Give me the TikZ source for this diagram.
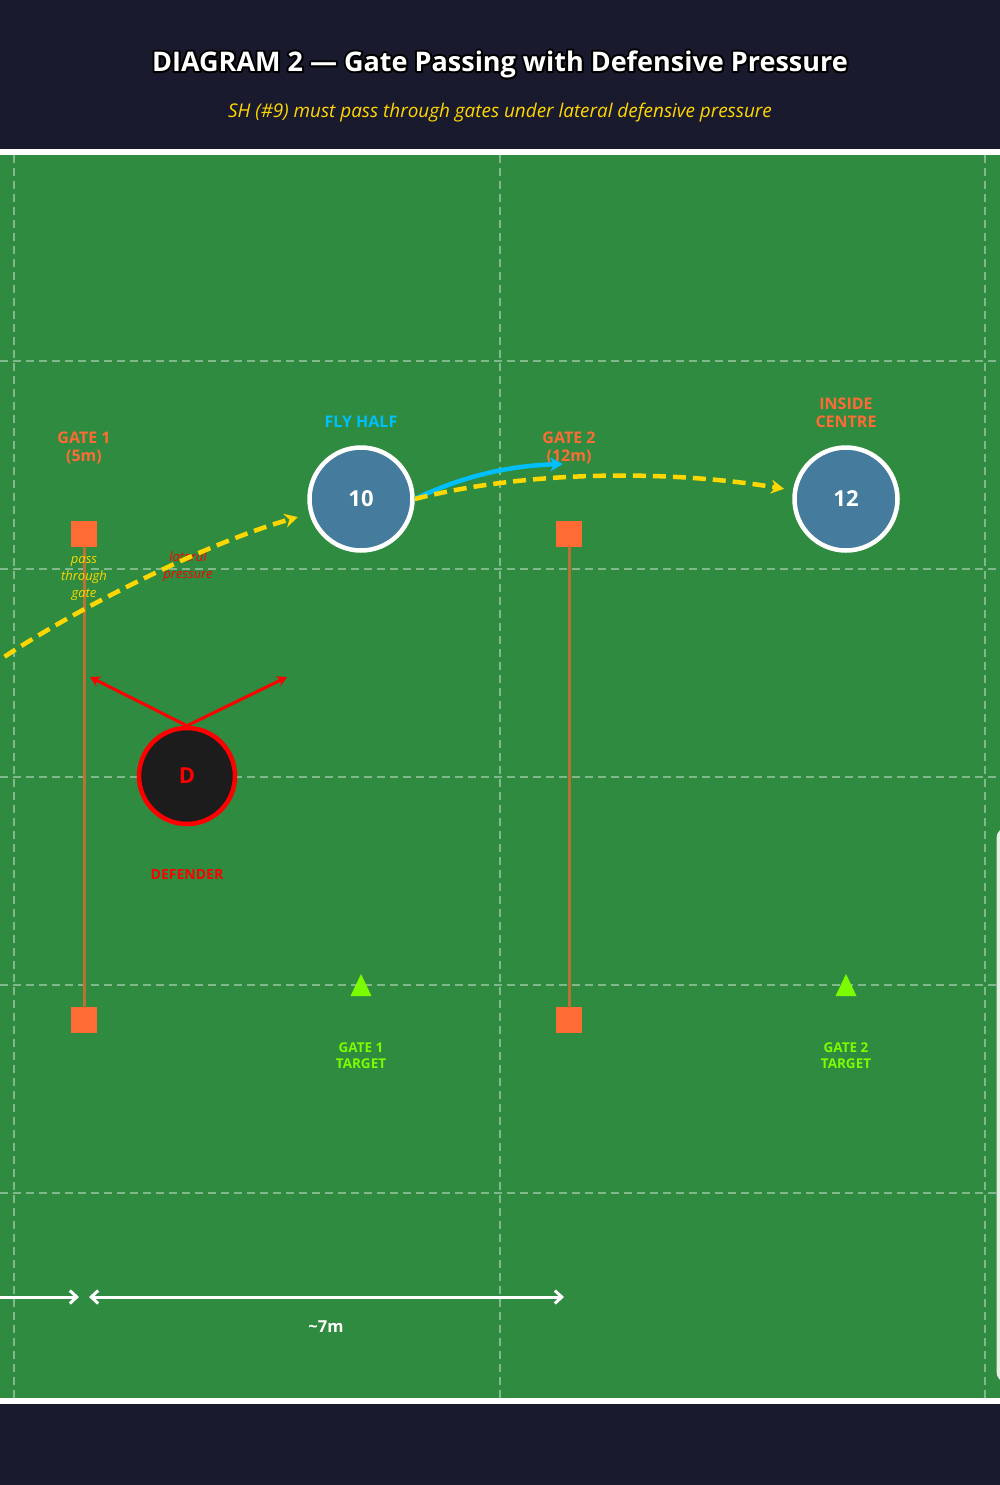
\documentclass[tikz,border=0pt]{standalone}
\usepackage{fontspec}
\setmainfont{Open Sans}
\usetikzlibrary{arrows.meta}

\definecolor{headbg}{HTML}{1A1A2E}
\definecolor{pitch}{HTML}{2E8B40}
\definecolor{coneor}{HTML}{FF6B35}
\definecolor{polebr}{HTML}{B87333}
\definecolor{shirt}{HTML}{457B9D}
\definecolor{flyblue}{HTML}{00BFFF}
\definecolor{passyel}{HTML}{FFD700}
\definecolor{targetgr}{HTML}{7CFC00}
\definecolor{defbk}{HTML}{1C1C1C}

% stroked copy of a text, for the dark edge round the title
\newcommand{\strokedtext}[1]{\special{pdf:literal direct 2 Tr 4 w 1 j}#1\special{pdf:literal direct 0 Tr}}

\tikzset{
  fieldline/.style={white, opacity=0.4, line width=1.2pt, dash pattern=on 8pt off 5pt},
  cone/.style={rectangle, fill=coneor, minimum size=26pt, inner sep=0pt},
  gatepole/.style={polebr, line width=3pt},
  player/.style={circle, fill=shirt, draw=white, line width=4.5pt, minimum size=103pt,
    text=white, font=\bfseries\fontsize{22}{26}\selectfont},
  defplayer/.style={circle, fill=defbk, draw=red, line width=4.5pt, minimum size=96pt,
    text=red, font=\bfseries\fontsize{22}{26}\selectfont},
  lbl/.style={font=\bfseries\fontsize{16}{18.5}\selectfont, align=center, inner sep=0pt},
  smalllbl/.style={font=\bfseries\fontsize{13.5}{16}\selectfont, align=center, inner sep=0pt},
  note/.style={font=\itshape\fontsize{13}{17}\selectfont, align=center, inner sep=0pt},
  passline/.style={passyel, line width=4.5pt, dash pattern=on 13pt off 7pt,
    -{Stealth[length=13pt,width=14pt]}},
  runline/.style={flyblue, line width=4.5pt, -{Stealth[length=13pt,width=14pt]}},
  pressline/.style={red, line width=3pt, -{Stealth[length=10pt,width=11pt]}},
  measure/.style={white, line width=3pt},
  titletext/.style={font=\bfseries\fontsize{27}{30}\selectfont, inner sep=0pt},
}

\begin{document}
\begin{tikzpicture}[x=1pt,y=-1pt]
\useasboundingbox (0,0) rectangle (1000,1485);
\fill[headbg] (0,0) rectangle (1000,1485);

% pitch
\draw[fill=pitch, draw=white, line width=5.5pt] (-20,152) rectangle (1020,1401);
\foreach \xx in {14,500,985}
  \draw[fieldline] (\xx,155) -- (\xx,1398);
\foreach \yy in {361,569,777,985,1193}
  \draw[fieldline] (0,\yy) -- (1000,\yy);

% legend box, mostly off the page
\draw[fill=white, fill opacity=0.88, draw=white!85!gray, line width=1pt, rounded corners=10pt]
  (997,828) rectangle (1250,1382);

% title
\node[titletext, text=black] (title-edge) at (500,64)
  {\strokedtext{DIAGRAM 2 — Gate Passing with Defensive Pressure}};
\node[titletext, text=white] (title) at (500,64)
  {DIAGRAM 2 — Gate Passing with Defensive Pressure};
\node[font=\itshape\fontsize{18.9}{22}\selectfont, text=passyel, inner sep=0pt]
  (subtitle) at (500,113) {SH (\#9) must pass through gates under lateral defensive pressure};

% gates
\node[cone] (g1top) at (84,534) {};
\node[cone] (g1bot) at (84,1020) {};
\node[cone] (g2top) at (569,534) {};
\node[cone] (g2bot) at (569,1020) {};
\draw[gatepole] (g1top) -- (g1bot);
\draw[gatepole] (g2top) -- (g2bot);
\node[lbl, text=coneor] (g1lbl) at (84,448) {GATE 1\\(5m)};
\node[lbl, text=coneor] (g2lbl) at (569,448) {GATE 2\\(12m)};
\node[note, text=passyel] (g1note) at (84,579) {pass\\through\\gate};
\node[note, text=red] (presslbl) at (188,567) {lateral\\pressure};

% targets
\coordinate (t1) at (361,985);
\coordinate (t2) at (846,985);
\fill[targetgr, shift={(t1)}] (0,-11) -- (10.5,11) -- (-10.5,11) -- cycle;
\fill[targetgr, shift={(t2)}] (0,-11) -- (10.5,11) -- (-10.5,11) -- cycle;
\node[smalllbl, text=targetgr] (t1lbl) at (361,1056) {GATE 1\\TARGET};
\node[smalllbl, text=targetgr] (t2lbl) at (846,1056) {GATE 2\\TARGET};

% defender
\node[defplayer] (def) at (187,776) {D};
\node[smalllbl, font=\bfseries\fontsize{14}{16}\selectfont, text=red] (deflbl) at (187,874) {DEFENDER};
\coordinate (pressl) at (90,677);
\coordinate (pressr) at (287,677);
\draw[pressline] (def.north) -- (pressl);
\draw[pressline] (def.north) -- (pressr);

% attackers
\node[player] (fh) at (361,499) {10};
\node[lbl, text=flyblue] (fhlbl) at (361,422) {FLY HALF};
\node[player] (ic) at (846,499) {12};
\node[lbl, text=coneor] (iclbl) at (846,413) {INSIDE\\CENTRE};

% passes and run
\coordinate (sh) at (-12,668);
\coordinate (fhrun) at (563,464);
\draw[passline, shorten >=12pt] (sh) .. controls (60,617) and (200,545) .. (fh);
\draw[runline] (fh.east) .. controls (455,480) and (500,466) .. (fhrun);
\draw[passline, shorten >=9pt] (fh.east) .. controls (528,470) and (670,470) .. (ic);

% distances
\coordinate (m0) at (-10,1297);
\coordinate (m1) at (79,1297);
\coordinate (m2) at (89,1297);
\coordinate (m3) at (564,1297);
\draw[measure, -{Straight Barb[length=7pt,width=13pt]}] (m0) -- (m1);
\draw[measure, {Straight Barb[length=7pt,width=13pt]}-{Straight Barb[length=7pt,width=13pt]}] (m2) -- (m3);
\node[font=\bfseries\fontsize{16.5}{18}\selectfont, text=white, inner sep=0pt] (dist) at (326,1327) {\textasciitilde7m};
\end{tikzpicture}
\end{document}
